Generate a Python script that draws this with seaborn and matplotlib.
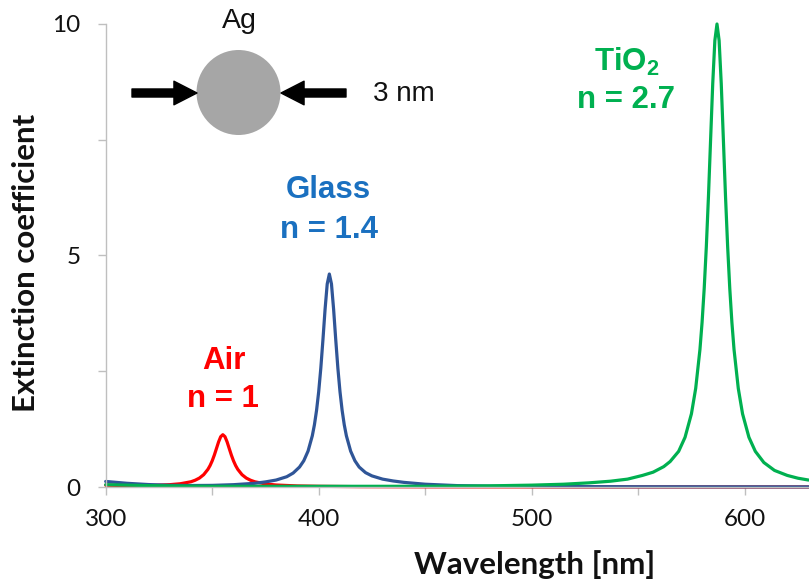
import matplotlib
matplotlib.use("Agg")
import matplotlib.pyplot as plt
from matplotlib.patches import Ellipse, FancyArrowPatch
from matplotlib.ticker import FixedLocator, NullFormatter
import seaborn as sns
import pandas as pd

# ---------------- data ----------------
air_wl = [300, 310, 320, 325, 330, 335, 340, 342, 344, 346, 348, 349, 350, 351, 352, 353, 354,
          355, 356, 357, 358, 359, 360, 361, 362, 364, 366, 368, 370, 375, 380, 390, 400, 420,
          450, 500, 550, 630]
air_ext = [0.04, 0.03, 0.03, 0.04, 0.05, 0.07, 0.113, 0.146, 0.193, 0.266, 0.382, 0.463, 0.565,
           0.689, 0.831, 0.974, 1.087, 1.13, 1.087, 0.974, 0.831, 0.689, 0.565, 0.463, 0.382,
           0.266, 0.193, 0.146, 0.113, 0.066, 0.043, 0.023, 0.015, 0.007, 0.003, 0.0013, 0.0007,
           0.0004]

glass_wl = [300, 310, 320, 330, 340, 350, 360, 370, 375, 380, 385, 388, 391, 393, 395, 397, 398,
            399, 400, 401, 402, 403, 404, 405, 406, 407, 408, 409, 410, 411, 412, 413, 415, 417,
            419, 422, 425, 430, 435, 440, 450, 465, 480, 500, 550, 600, 630]
glass_ext = [0.12, 0.08, 0.053, 0.037, 0.032, 0.035, 0.05, 0.08, 0.11, 0.15, 0.222, 0.301, 0.431,
             0.567, 0.775, 1.106, 1.345, 1.656, 2.058, 2.570, 3.185, 3.841, 4.385, 4.6, 4.385,
             3.841, 3.185, 2.570, 2.058, 1.656, 1.345, 1.106, 0.775, 0.567, 0.431, 0.31, 0.24,
             0.17, 0.13, 0.1, 0.06, 0.03, 0.018, 0.011, 0.005, 0.003, 0.002]

tio2_wl = [300, 320, 350, 400, 450, 480, 500, 515, 527, 537, 545, 552, 557, 562, 565, 569, 572,
           575, 577, 579, 580, 581, 582, 583, 584, 585, 586, 587, 588, 589, 590, 591, 592, 593,
           594, 595, 597, 599, 602, 605, 609, 614, 620, 625, 630]
tio2_ext = [0.05, 0.03, 0.015, 0.015, 0.015, 0.025, 0.04, 0.06, 0.09, 0.125, 0.17, 0.25, 0.32,
            0.44, 0.55, 0.77, 1.073, 1.581, 2.129, 2.970, 3.556, 4.290, 5.195, 6.281, 7.502,
            8.711, 9.643, 10.0, 9.643, 8.711, 7.502, 6.281, 5.195, 4.290, 3.556, 2.970, 2.129,
            1.581, 1.073, 0.77, 0.529, 0.358, 0.25, 0.19, 0.15]

x_major = [300, 400, 500, 600]
x_minor = [350, 450, 550]
y_major = [0, 5, 10]
y_minor = [2.5, 7.5]

# ---------------- styling ----------------
sns.set_theme(style="white")
plt.rcParams["font.family"] = ["Lato", "DejaVu Sans"]
plt.rcParams["mathtext.fontset"] = "custom"
plt.rcParams["mathtext.bf"] = "Liberation Sans:bold"
plt.rcParams["mathtext.rm"] = "Liberation Sans:bold"

W, H = 809, 588
fig = plt.figure(figsize=(W / 100, H / 100), dpi=100)
ax = fig.add_axes([105.7 / W, 1 - 487 / H, (W - 105.7) / W, (487 - 24) / H])

df_air = pd.DataFrame({"wl": air_wl, "ext": air_ext})
df_glass = pd.DataFrame({"wl": glass_wl, "ext": glass_ext})
df_tio2 = pd.DataFrame({"wl": tio2_wl, "ext": tio2_ext})

lw = 2.3
sns.lineplot(data=df_air, x="wl", y="ext", ax=ax, color="#ff0000", lw=lw, clip_on=False)
sns.lineplot(data=df_glass, x="wl", y="ext", ax=ax, color="#2f5597", lw=lw, clip_on=False)
sns.lineplot(data=df_tio2, x="wl", y="ext", ax=ax, color="#00b050", lw=lw, clip_on=False)

ax.set_xlim(300, 630.2)
ax.set_ylim(0, 10)

for s in ["top", "right"]:
    ax.spines[s].set_visible(False)
for s in ["left", "bottom"]:
    ax.spines[s].set_color("#bfbfbf")
    ax.spines[s].set_linewidth(1.0)

ax.xaxis.set_major_locator(FixedLocator(x_major))
ax.xaxis.set_minor_locator(FixedLocator(x_minor))
ax.yaxis.set_major_locator(FixedLocator(y_major))
ax.yaxis.set_minor_locator(FixedLocator(y_minor))
ax.set_xticklabels([str(v) for v in x_major])
ax.set_yticklabels([str(v) for v in y_major])
ax.xaxis.set_minor_formatter(NullFormatter())
ax.yaxis.set_minor_formatter(NullFormatter())

ax.tick_params(axis="both", which="both", direction="out", length=6, width=1.0,
               color="#bfbfbf", labelsize=17.5, labelcolor="#111111")
ax.tick_params(axis="x", which="both", bottom=True, pad=10)
ax.tick_params(axis="y", which="both", left=True, pad=12)

ax.set_xlabel("Wavelength [nm]", fontsize=22.5, fontweight="bold", color="#111111")
ax.set_ylabel("Extinction coefficient", fontsize=22.5, fontweight="bold", color="#111111")
ax.xaxis.set_label_coords((535 - 105.7) / (W - 105.7), (487 - 565) / (487 - 24))
ax.yaxis.set_label_coords((26 - 105.7) / (W - 105.7), (487 - 263) / (487 - 24))
ax.xaxis.label.set_va("center")
ax.yaxis.label.set_va("center")


def fx(px):
    return px / W


def fy(py):
    return 1 - py / H


ann = dict(ha="center", va="center", family=["Liberation Sans", "DejaVu Sans"])
fs = 22.5
fig.text(fx(224), fy(361), "Air", color="#ff0000", fontsize=fs, fontweight="bold", **ann)
fig.text(fx(223), fy(399), "n = 1", color="#ff0000", fontsize=fs, fontweight="bold", **ann)
fig.text(fx(328), fy(190), "Glass", color="#1a70c0", fontsize=fs, fontweight="bold", **ann)
fig.text(fx(329), fy(230), "n = 1.4", color="#1a70c0", fontsize=fs, fontweight="bold", **ann)
fig.text(fx(627), fy(62), r"TiO$_\mathbf{2}$", color="#00b050", fontsize=fs, fontweight="bold", **ann)
fig.text(fx(626), fy(100), "n = 2.7", color="#00b050", fontsize=fs, fontweight="bold", **ann)

fig.text(fx(239), fy(21), "Ag", color="#111111", fontsize=20.5, **ann)
fig.text(fx(404), fy(94), "3 nm", color="#111111", fontsize=20, **ann)

fig.add_artist(Ellipse((fx(238.5), fy(92.5)), width=84 / W, height=85 / H,
                       transform=fig.transFigure, facecolor="#a6a6a6", edgecolor="none"))

arrow_style = "simple,head_length=0.83,head_width=0.85,tail_width=0.29"
fig.add_artist(FancyArrowPatch(
    (fx(132), fy(93)), (fx(197), fy(93)), transform=fig.transFigure,
    arrowstyle=arrow_style, mutation_scale=20, color="black", shrinkA=0, shrinkB=0))
fig.add_artist(FancyArrowPatch(
    (fx(346), fy(93)), (fx(281), fy(93)), transform=fig.transFigure,
    arrowstyle=arrow_style, mutation_scale=20, color="black", shrinkA=0, shrinkB=0))

fig.savefig("out.png", dpi=100)
